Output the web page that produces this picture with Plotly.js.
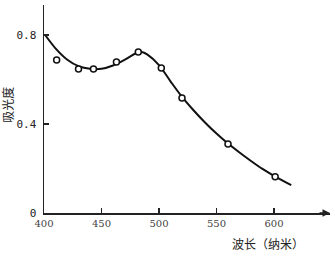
<!DOCTYPE html>
<html>
<head>
<meta charset="utf-8">
<script src="https://cdn.plot.ly/plotly-3.0.1.min.js"></script>
<style>html,body{margin:0;padding:0;background:#fff;}#chart{width:335px;height:259px;}</style>
</head>
<body>
<div id="chart"></div>
<script>
// Measured points (open circles)
const pointWavelength = [411, 430, 443, 463, 482, 502, 520, 560, 601];
const pointAbsorbance = [0.688, 0.647, 0.647, 0.679, 0.724, 0.652, 0.517, 0.31, 0.163];
// Smooth drawn curve
const curveWavelength = [401, 410, 420, 430, 440, 450, 460, 470, 480, 485, 490, 500, 510, 520, 530, 540, 550, 560, 570, 580, 590, 600, 615];
const curveAbsorbance = [0.80, 0.74, 0.69, 0.66, 0.648, 0.648, 0.663, 0.688, 0.718, 0.724, 0.712, 0.665, 0.592, 0.522, 0.462, 0.407, 0.357, 0.312, 0.272, 0.234, 0.198, 0.167, 0.125];
const xTickVals = [400, 450, 500, 550, 600];
const xTickText = ['400', '450', '500', '550', '600'];
const yTickVals = [0, 0.4, 0.8];
const yTickText = ['0', '0.4', '0.8'];

const traces = [
  {x: curveWavelength, y: curveAbsorbance, mode: 'lines', type: 'scatter',
   line: {color: '#111', width: 2, shape: 'spline', smoothing: 0.8}, hoverinfo: 'skip'},
  {x: pointWavelength, y: pointAbsorbance, mode: 'markers', type: 'scatter',
   marker: {symbol: 'circle', size: 6, color: '#fff', line: {color: '#111', width: 1.5}}}
];

const layout = {
  width: 335, height: 259,
  margin: {l: 44, r: 5, t: 5, b: 46},
  paper_bgcolor: '#fff', plot_bgcolor: '#fff',
  showlegend: false,
  font: {family: 'DejaVu Serif, serif', size: 10, color: '#333'},
  xaxis: {range: [400, 648.7], showgrid: false, zeroline: false, showline: true,
    linecolor: '#222', linewidth: 1.5, ticks: 'inside', ticklen: 5, tickcolor: '#222', tickwidth: 1.2,
    tickvals: xTickVals, ticktext: xTickText, tickfont: {family: 'DejaVu Serif, serif', size: 10, color: '#444'}},
  yaxis: {range: [0, 0.935], showgrid: false, zeroline: false, showline: true,
    linecolor: '#222', linewidth: 1.5, ticks: 'inside', ticklen: 5, tickcolor: '#222', tickwidth: 1.2,
    tickvals: yTickVals, ticktext: yTickText, ticklabelstandoff: 4,
    tickfont: {family: 'DejaVu Sans Mono, monospace', size: 11, color: '#222'}},
  annotations: [
    {text: '波长（纳米）', xref: 'paper', yref: 'paper', x: 0.783, y: -0.149, showarrow: false,
     xanchor: 'center', yanchor: 'middle', font: {family: 'Noto Sans CJK SC', size: 12, color: '#222'}},
    {text: '吸光度', xref: 'paper', yref: 'paper', x: -0.126, y: 0.52, showarrow: false, textangle: -90,
     xanchor: 'center', yanchor: 'middle', font: {family: 'Noto Sans CJK SC', size: 12, color: '#222'}},
    {text: '', xref: 'paper', yref: 'paper', x: 1, y: 0, ax: -12, ay: 0, showarrow: true,
     arrowhead: 2, arrowsize: 1, arrowwidth: 1.5, arrowcolor: '#222'}
  ]
};

Plotly.newPlot('chart', traces, layout, {displayModeBar: false, staticPlot: true});
</script>
</body>
</html>
